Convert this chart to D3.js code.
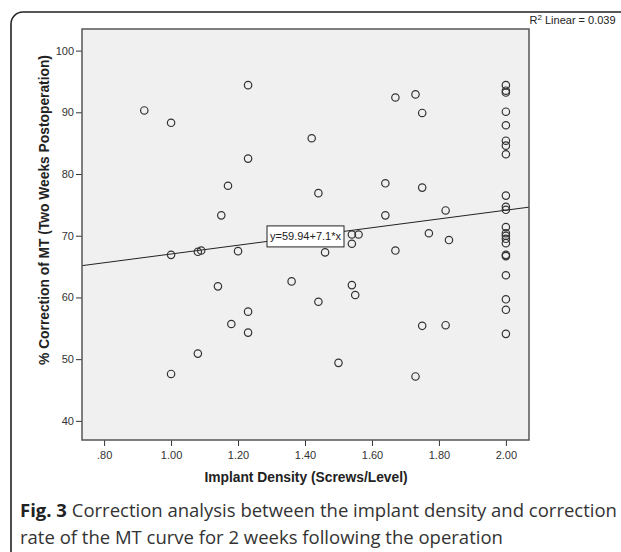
<!DOCTYPE html>
<html>
<head>
<meta charset="utf-8">
<script src="https://cdn.jsdelivr.net/npm/d3@7"></script>
<style>
  body { margin: 0; background: #fff; }
  svg { display: block; }
  .tick text { font-family: "Liberation Sans", Arial, sans-serif; font-size: 11px; fill: #333; }
  .tick line { stroke: #333; }
</style>
</head>
<body>
<svg id="chart"></svg>
<script>
// implant density (screws/level) and % correction of MT
let density = [0.92, 1.00, 1.00, 1.00, 1.08, 1.09, 1.08, 1.14, 1.15, 1.17, 1.18, 1.20,
  1.23, 1.23, 1.23, 1.23, 1.36, 1.42, 1.44, 1.44, 1.46, 1.50, 1.54, 1.54, 1.54, 1.55,
  1.56, 1.64, 1.64, 1.67, 1.67, 1.73, 1.73, 1.75, 1.75, 1.75, 1.77, 1.82, 1.82, 1.83,
  2.00, 2.00, 2.00, 2.00, 2.00, 2.00, 2.00, 2.00, 2.00, 2.00, 2.00, 2.00, 2.00, 2.00,
  2.00, 2.00, 2.00, 2.00, 2.00, 2.00, 2.00, 2.00];
let correction = [90.3, 88.3, 66.9, 47.6, 67.4, 67.6, 50.9, 61.8, 73.3, 78.1, 55.7, 67.5,
  94.4, 82.5, 57.7, 54.3, 62.6, 85.8, 76.9, 59.3, 67.3, 49.4, 70.2, 68.7, 62.0, 60.4,
  70.2, 78.5, 73.3, 92.4, 67.6, 92.9, 47.2, 89.9, 77.8, 55.4, 70.4, 74.1, 55.5, 69.3,
  94.4, 93.5, 93.2, 90.1, 87.9, 85.4, 84.6, 83.2, 76.5, 74.7, 74.2, 71.4, 70.4, 70.0,
  69.5, 68.8, 66.9, 66.7, 63.6, 59.7, 58.0, 54.1];

let xTicks = [0.8, 1.0, 1.2, 1.4, 1.6, 1.8, 2.0];
let xTickLabels = [".80", "1.00", "1.20", "1.40", "1.60", "1.80", "2.00"];
let yTicks = [40, 50, 60, 70, 80, 90, 100];

let fit = { a: 59.94, b: 7.1, r2: 0.039 };

let width = 621, height = 552;
let plot = { left: 82, right: 529, top: 29, bottom: 440 };

let svg = d3.select("#chart").attr("width", width).attr("height", height);

// outer figure frame
svg.append("rect")
  .attr("x", 11).attr("y", 12)
  .attr("width", 660).attr("height", 552)
  .attr("rx", 12)
  .attr("fill", "none")
  .attr("stroke", "#222")
  .attr("stroke-width", 1.6);

let x = d3.scaleLinear().domain([0.734, 2.069]).range([plot.left, plot.right]);
let y = d3.scaleLinear().domain([36.9, 103.5]).range([plot.bottom, plot.top]);

svg.append("rect")
  .attr("x", plot.left).attr("y", plot.top)
  .attr("width", plot.right - plot.left).attr("height", plot.bottom - plot.top)
  .attr("fill", "#f0f0f0");

let xAxis = svg.append("g")
  .attr("transform", `translate(0,${plot.bottom})`)
  .call(d3.axisBottom(x).tickValues(xTicks).tickSize(6).tickSizeOuter(0)
    .tickFormat((d, i) => xTickLabels[i]));
xAxis.select(".domain").remove();
xAxis.selectAll("text").attr("dy", "0.95em");

let yAxis = svg.append("g")
  .attr("transform", `translate(${plot.left},0)`)
  .call(d3.axisLeft(y).tickValues(yTicks).tickSize(6).tickSizeOuter(0).tickPadding(2));
yAxis.select(".domain").remove();

// fit line clipped to the plot
let x0 = x.domain()[0], x1 = x.domain()[1];
svg.append("line")
  .attr("x1", x(x0)).attr("y1", y(fit.a + fit.b * x0))
  .attr("x2", x(x1)).attr("y2", y(fit.a + fit.b * x1))
  .attr("stroke", "#222").attr("stroke-width", 1);

svg.append("g").selectAll("circle")
  .data(density.map((d, i) => [d, correction[i]]))
  .join("circle")
  .attr("cx", d => x(d[0]))
  .attr("cy", d => y(d[1]))
  .attr("r", 3.7)
  .attr("fill", "none")
  .attr("stroke", "#333")
  .attr("stroke-width", 1.2);

// equation label at the middle of the line
let xm = (x0 + x1) / 2;
let lab = svg.append("g")
  .attr("transform", `translate(${x(xm)},${y(fit.a + fit.b * xm)})`);
lab.append("rect")
  .attr("x", -38.5).attr("y", -10.5).attr("width", 77).attr("height", 21)
  .attr("fill", "#fff").attr("stroke", "#222").attr("stroke-width", 1);
lab.append("text")
  .attr("text-anchor", "middle").attr("dy", "0.36em")
  .style("font-family", "Liberation Sans, Arial, sans-serif")
  .style("font-size", "11px").attr("fill", "#222")
  .text(`y=${fit.a}+${fit.b}*x`);

svg.append("rect")
  .attr("x", plot.left).attr("y", plot.top)
  .attr("width", plot.right - plot.left).attr("height", plot.bottom - plot.top)
  .attr("fill", "none").attr("stroke", "#555").attr("stroke-width", 1.5);

let r2 = svg.append("text")
  .attr("x", plot.right + 0.5).attr("y", 24)
  .style("font-family", "Liberation Sans, Arial, sans-serif")
  .style("font-size", "11px").attr("fill", "#222");
r2.append("tspan").text("R");
r2.append("tspan").attr("dy", -4).style("font-size", "8px").text("2");
r2.append("tspan").attr("dy", 4).text(` Linear = ${fit.r2}`);

svg.append("text")
  .attr("transform", `translate(49,${210}) rotate(-90)`)
  .attr("text-anchor", "middle")
  .style("font-family", "Liberation Sans, Arial, sans-serif")
  .style("font-size", "13.8px").style("font-weight", "bold").attr("fill", "#222")
  .text("% Correction of MT (Two Weeks Postoperation)");

svg.append("text")
  .attr("x", 306).attr("y", 482)
  .attr("text-anchor", "middle")
  .style("font-family", "Liberation Sans, Arial, sans-serif")
  .style("font-size", "13.8px").style("font-weight", "bold").attr("fill", "#222")
  .text("Implant Density (Screws/Level)");

// caption
let cap = svg.append("g")
  .style("font-family", "'Open Sans', sans-serif")
  .style("font-size", "18.5px").attr("fill", "#333");
let l1 = cap.append("text").attr("x", 20).attr("y", 517);
l1.append("tspan").style("font-weight", "bold").attr("fill", "#222").text("Fig. 3");
l1.append("tspan").text(" Correction analysis between the implant density and correction");
cap.append("text").attr("x", 20).attr("y", 544)
  .text("rate of the MT curve for 2 weeks following the operation");
</script>
</body>
</html>
